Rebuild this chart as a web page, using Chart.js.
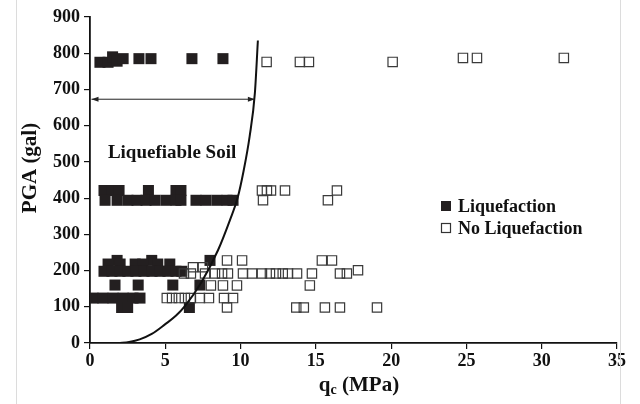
<!DOCTYPE html>
<html><head><meta charset="utf-8">
<script src="https://cdn.jsdelivr.net/npm/chart.js@4"></script>
<style>html,body{margin:0;padding:0;background:#fff}#wrap{width:640px;height:404px}</style>
</head><body><div id="wrap"><canvas id="c" width="640" height="404"></canvas></div>
<script>
// ---- data ----
const xTickValues = [0, 5, 10, 15, 20, 25, 30, 35];
const yTickValues = [0, 100, 200, 300, 400, 500, 600, 700, 800, 900];
const seriesNames = ["Liquefaction", "No Liquefaction"];
const liqQ = [0.66,1.2,1.5,1.8,2.2,3.25,4.05,6.77,8.83,
  0.93,1.46,1.93,3.88,5.71,6.04,
  1.0,1.8,2.52,3.12,3.72,4.32,5.05,5.71,6.04,7.04,7.70,8.43,9.10,9.50,
  1.8,4.1,7.97,
  1.2,2.0,3.0,3.5,4.5,5.3,
  0.93,1.46,1.99,2.52,3.05,3.59,4.12,4.65,5.18,5.71,6.1,
  1.66,3.2,5.5,7.3,
  0.2,0.86,1.53,2.2,2.86,3.32,
  2.1,2.5,6.6];
const liqPGA = [775,775,790,778,785,785,785,785,785,
  421,421,421,421,421,421,
  394,394,394,394,394,394,394,394,394,394,394,394,394,394,
  228,228,228,
  218,218,218,218,218,218,
  198,198,198,198,198,198,198,198,198,198,198,
  160,160,160,160,
  124,124,124,124,124,124,
  98,98,98];
const nonQ = [11.73,13.94,14.54,20.1,24.77,25.7,31.47,
  11.42,11.75,12.02,12.95,11.49,15.8,16.4,
  9.1,10.1,15.4,16.07,
  6.84,7.5,
  6.24,6.7,7.64,8.3,8.77,9.16,10.16,10.76,11.42,11.95,12.35,12.8,13.15,13.75,14.74,16.6,17.06,
  17.8,
  8.03,8.83,9.76,14.6,
  5.1,5.45,5.9,6.3,6.7,7.3,7.9,8.9,9.5,
  9.1,13.7,14.2,15.6,16.6,19.06];
const nonPGA = [776,776,776,776,787,787,787,
  421,421,421,421,394,394,421,
  228,228,228,228,
  209,209,
  192,192,192,192,192,192,192,192,192,192,192,192,192,192,192,192,192,
  201,
  159,159,159,159,
  124,124,124,124,124,124,124,124,124,
  98,98,98,98,98,98];
const boundaryQ = [1.9,2.6,3.3,4.1,5.0,5.7,6.3,7.4,8.5,9.3,9.8,10.2,10.6,10.95,11.15];
const boundaryPGA = [0,3,10,25,52,75,102,168,256,340,400,475,570,690,835];
const arrowQ = [0.1, 10.95];
const arrowPGA = [673, 673];
const zoneLabel = {text: "Liquefiable Soil", q: 5.45, pga: 525};
const xTitle = {main: "q", sub: "c", rest: " (MPa)"};
const yTitle = "PGA (gal)";

const toPts = (xs, ys) => xs.map((x, i) => ({x: x, y: ys[i]}));
const SERIF = '"Liberation Serif", "Times New Roman", serif';

const overlay = {
  id: 'overlay',
  afterDatasetsDraw(chart) {
    const ctx = chart.ctx, xs = chart.scales.x, ys = chart.scales.y;
    ctx.save();
    // arrowheads
    const ay = ys.getPixelForValue(arrowPGA[0]);
    const ax0 = xs.getPixelForValue(arrowQ[0]), ax1 = xs.getPixelForValue(arrowQ[1]);
    ctx.fillStyle = '#222';
    ctx.beginPath(); ctx.moveTo(ax0, ay); ctx.lineTo(ax0 + 7, ay - 2.5); ctx.lineTo(ax0 + 7, ay + 2.5); ctx.closePath(); ctx.fill();
    ctx.beginPath(); ctx.moveTo(ax1, ay); ctx.lineTo(ax1 - 7, ay - 2.5); ctx.lineTo(ax1 - 7, ay + 2.5); ctx.closePath(); ctx.fill();
    // zone label
    ctx.fillStyle = '#111';
    ctx.font = 'bold 19px ' + SERIF;
    ctx.textAlign = 'center'; ctx.textBaseline = 'middle';
    ctx.fillText(zoneLabel.text, xs.getPixelForValue(zoneLabel.q), ys.getPixelForValue(zoneLabel.pga));
    // legend
    ctx.font = 'bold 18px ' + SERIF;
    const lx = 446, ly = [206, 228];
    ctx.textAlign = 'left';
    ctx.fillStyle = '#231f20';
    ctx.fillRect(lx - 5, ly[0] - 5, 10, 10);
    ctx.strokeStyle = '#333'; ctx.lineWidth = 1.2;
    ctx.strokeRect(lx - 4.5, ly[1] - 4.5, 9, 9);
    ctx.fillStyle = '#111';
    ctx.fillText(seriesNames[0], lx + 12, ly[0] + 1);
    ctx.fillText(seriesNames[1], lx + 12, ly[1] + 1);
    // x title with subscript
    ctx.font = 'bold 21px ' + SERIF;
    const w1 = ctx.measureText(xTitle.main).width;
    ctx.font = 'bold 14px ' + SERIF;
    const w2 = ctx.measureText(xTitle.sub).width;
    ctx.font = 'bold 21px ' + SERIF;
    const w3 = ctx.measureText(xTitle.rest).width;
    const cx = 359;
    let sx = cx - (w1 + w2 + w3) / 2;
    const by = 391;
    ctx.textBaseline = 'alphabetic';
    ctx.fillText(xTitle.main, sx, by);
    ctx.font = 'bold 14px ' + SERIF;
    ctx.fillText(xTitle.sub, sx + w1, by + 3);
    ctx.font = 'bold 21px ' + SERIF;
    ctx.fillText(xTitle.rest, sx + w1 + w2, by);
    // y title
    ctx.save();
    ctx.translate(31, 168);
    ctx.rotate(-Math.PI / 2);
    ctx.textAlign = 'center'; ctx.textBaseline = 'middle';
    ctx.fillText(yTitle, 0, 0);
    ctx.restore();
    // light frame lines
    ctx.strokeStyle = '#dcdcdc'; ctx.lineWidth = 1;
    ctx.beginPath(); ctx.moveTo(16.5, 0); ctx.lineTo(16.5, 404); ctx.stroke();
    ctx.beginPath(); ctx.moveTo(620.5, 0); ctx.lineTo(620.5, 404); ctx.stroke();
    ctx.restore();
  }
};

new Chart(document.getElementById('c'), {
  type: 'scatter',
  data: {
    datasets: [
      {label: seriesNames[0], data: toPts(liqQ, liqPGA), pointStyle: 'rect', pointRadius: 7.8,
       backgroundColor: '#231f20', borderColor: '#231f20', borderWidth: 0, order: 3},
      {label: seriesNames[1], data: toPts(nonQ, nonPGA), pointStyle: 'rect', pointRadius: 6.6,
       backgroundColor: 'rgba(255,255,255,0)', borderColor: '#3a3a3a', borderWidth: 1.2, order: 2},
      {label: 'boundary', data: toPts(boundaryQ, boundaryPGA), showLine: true, pointRadius: 0,
       borderColor: '#111', borderWidth: 2, cubicInterpolationMode: 'monotone', order: 1},
      {label: 'arrow', data: toPts(arrowQ, arrowPGA), showLine: true, pointRadius: 0,
       borderColor: '#222', borderWidth: 1, order: 1}
    ]
  },
  options: {
    responsive: false, animation: false, events: [],
    layout: {padding: {left: 0, right: 23, top: 17, bottom: 0}},
    plugins: {legend: {display: false}, tooltip: {enabled: false}},
    scales: {
      x: {
        type: 'linear', min: 0, max: 35,
        afterBuildTicks: s => { s.ticks = xTickValues.map(v => ({value: v})); },
        afterFit: s => { s.height = 61; },
        ticks: {color: '#111', font: {family: SERIF, size: 18, weight: 'bold'}, padding: 2, maxRotation: 0},
        grid: {drawOnChartArea: false, drawTicks: true, tickLength: 6, color: '#111', lineWidth: 1.2},
        border: {color: '#111', width: 1.8}
      },
      y: {
        min: 0, max: 900,
        afterBuildTicks: s => { s.ticks = yTickValues.map(v => ({value: v})); },
        afterFit: s => { s.width = 90; },
        ticks: {color: '#111', font: {family: SERIF, size: 18, weight: 'bold'}, padding: 4},
        grid: {drawOnChartArea: false, drawTicks: true, tickLength: 6, color: '#111', lineWidth: 1.2},
        border: {color: '#111', width: 1.8}
      }
    }
  },
  plugins: [overlay]
});
</script>
</body></html>
